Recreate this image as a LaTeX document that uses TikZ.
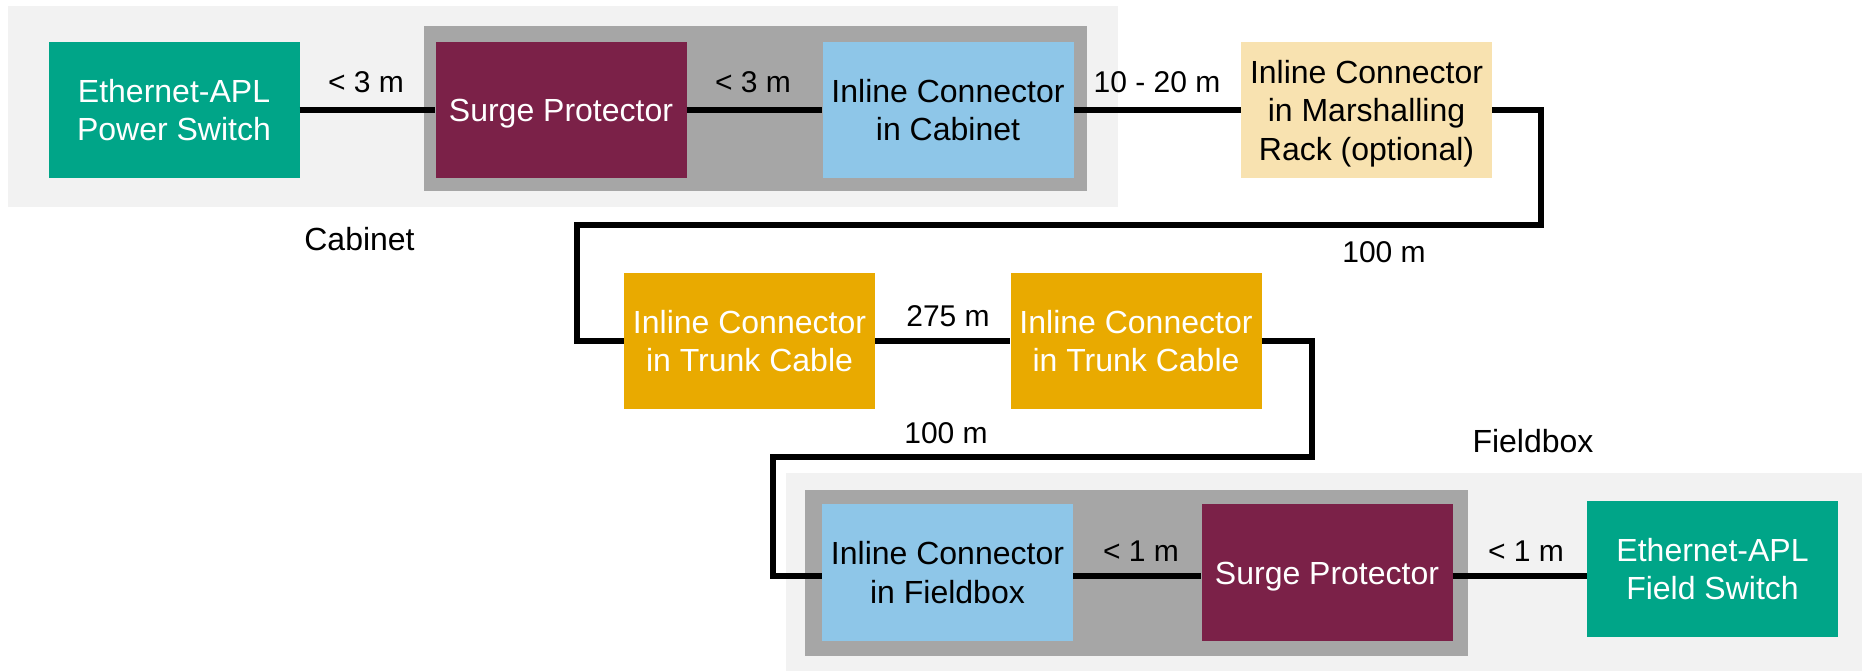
\documentclass[tikz,border=0pt]{standalone}
\usepackage{fontspec}
\setmainfont{Liberation Sans}
\definecolor{aplgreen}{RGB}{0,165,136}
\definecolor{surge}{RGB}{123,33,72}
\definecolor{cabblue}{RGB}{142,198,232}
\definecolor{paleyel}{RGB}{248,226,176}
\definecolor{trunkgold}{RGB}{233,170,0}
\definecolor{darkgr}{RGB}{166,166,166}
\definecolor{lightgr}{RGB}{242,242,242}
\tikzset{
  box/.style={rectangle, inner sep=0pt, minimum width=251pt, minimum height=136pt,
    align=center, font=\fontsize{32}{38.5}\selectfont},
  wbox/.style={box, text=white},
  kbox/.style={box, text=black},
  oneline/.style={text height=23pt, text depth=0pt},
  cable/.style={line width=5.5pt, black},
  dist/.style={anchor=base, inner sep=0pt, font=\fontsize{30}{36}\selectfont},
  enclabel/.style={anchor=base, inner sep=0pt, font=\fontsize{32}{38}\selectfont},
}
\begin{document}
\begin{tikzpicture}[x=1pt,y=-1pt]
\useasboundingbox (0,0) rectangle (1862,671);
% enclosures
\fill[lightgr] (8,6) rectangle (1118,207);
\fill[darkgr] (424,26) rectangle (1087,191);
\fill[lightgr] (786,473) rectangle (1862,671);
\fill[darkgr] (805,490) rectangle (1468,656);
% boxes
\node[wbox, fill=aplgreen] (ps) at (174,110) {Ethernet-APL\\Power Switch};
\node[wbox, oneline, fill=surge] (sp1) at (561,110) {Surge Protector};
\node[kbox, fill=cabblue] (ic1) at (948,110) {Inline Connector\\in Cabinet};
\node[kbox, fill=paleyel] (mr) at (1366.5,110) {\rule{0pt}{30pt}Inline Connector\\in Marshalling\\Rack (optional)};
\node[wbox, fill=trunkgold] (tc1) at (749.5,341) {Inline Connector\\in Trunk Cable};
\node[wbox, fill=trunkgold] (tc2) at (1136,341) {Inline Connector\\in Trunk Cable};
\node[kbox, fill=cabblue, minimum height=137pt] (icf) at (947.5,572.5) {Inline Connector\\in Fieldbox};
\node[wbox, oneline, fill=surge, minimum height=137pt] (sp2) at (1327,572.5) {Surge Protector};
\node[wbox, fill=aplgreen] (fs) at (1712.5,569) {Ethernet-APL\\Field Switch};
% corner coordinates
\coordinate (r1) at (1541,225);
\coordinate (l1) at (577,225);
\coordinate (r2) at (1312,457);
\coordinate (l2) at (773,457);
% cables
\draw[cable] (ps.east) -- (sp1.west);
\draw[cable] (sp1.east) -- (ic1.west);
\draw[cable] (ic1.east) -- (mr.west);
\draw[cable] (mr.east) -| (r1) -- (l1) |- (tc1.west);
\draw[cable] (tc1.east) -- (tc2.west);
\draw[cable] (tc2.east) -| (r2) -- (l2) |- ([yshift=-3.5pt]icf.west);
\draw[cable] ([yshift=-3.5pt]icf.east) -- ([yshift=-3.5pt]sp2.west);
\draw[cable] ([yshift=-3.5pt]sp2.east) -- ([yshift=-3.5pt]sp2.east -| fs.west);
% distance labels
\node[dist] (d1) at (366,93) {< 3 m};
\node[dist] (d2) at (753,93) {< 3 m};
\node[dist] (d3) at (1157,93) {10 - 20 m};
\node[dist] (d4) at (1384,262) {100 m};
\node[dist] (d5) at (948,326) {275 m};
\node[dist] (d6) at (946,443) {100 m};
\node[dist] (d7) at (1141,561) {< 1 m};
\node[dist] (d8) at (1526,561) {< 1 m};
% enclosure labels
\node[enclabel] (cab) at (359.5,250) {Cabinet};
\node[enclabel] (fb) at (1533,452) {Fieldbox};
\end{tikzpicture}
\end{document}
